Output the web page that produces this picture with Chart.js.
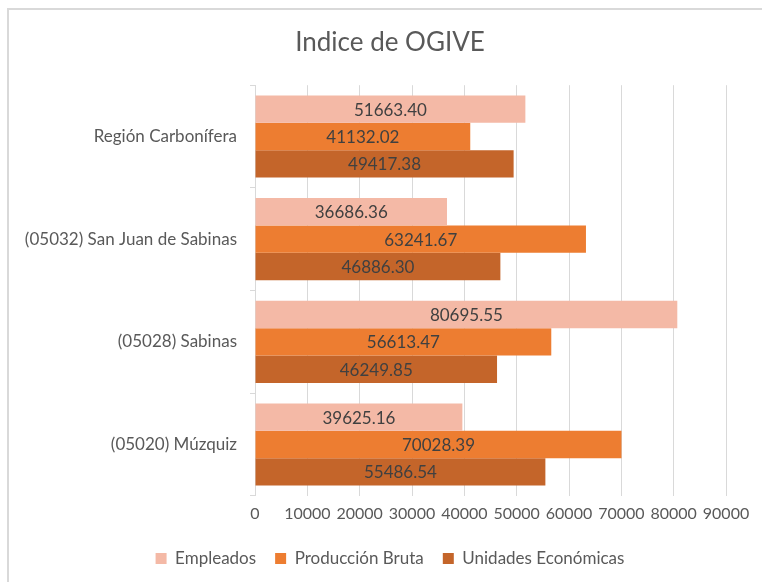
<!DOCTYPE html>
<html>
<head>
<meta charset="utf-8">
<script src="https://cdn.jsdelivr.net/npm/chart.js@4"></script>
<style>
  html, body { margin: 0; padding: 0; background: #fff; }
  #wrap { position: relative; width: 762px; height: 582px; overflow: hidden; }
  #frame { position: absolute; left: 7px; top: 8px; right: -10px; bottom: -10px;
           border-left: 2px solid #d9d9d9; border-top: 2px solid #d9d9d9; }
  #chart { position: absolute; left: 0; top: 0; }
</style>
</head>
<body>
<div id="wrap">
  <div id="frame"></div>
  <canvas id="chart" width="762" height="582"></canvas>
</div>
<script>
// Kategorier (oppefra og ned)
const categories = [
    'Región Carbonífera',
    '(05032) San Juan de Sabinas',
    '(05028) Sabinas',
    '(05020) Múzquiz'
];

// Serier
const empleados = [51663.40, 36686.36, 80695.55, 39625.16];
const produccionBruta = [41132.02, 63241.67, 56613.47, 70028.39];
const unidadesEconomicas = [49417.38, 46886.30, 46249.85, 55486.54];

// Akse-ticks
const xTicks = [0, 10000, 20000, 30000, 40000, 50000, 60000, 70000, 80000, 90000];

const FONT = 'Lato, "Open Sans", sans-serif';

// Tegner værdien midt i hver søjle
const barLabels = {
    id: 'barLabels',
    afterDatasetsDraw(chart) {
        const ctx = chart.ctx;
        ctx.save();
        ctx.font = '17px ' + FONT;
        ctx.fillStyle = '#404040';
        ctx.textAlign = 'center';
        ctx.textBaseline = 'middle';
        chart.data.datasets.forEach((ds, i) => {
            chart.getDatasetMeta(i).data.forEach((bar, j) => {
                const cx = (bar.base + bar.x) / 2;
                ctx.fillText(ds.data[j].toFixed(2), cx, bar.y + 1);
            });
        });
        ctx.restore();
    }
};

new Chart(document.getElementById('chart'), {
    type: 'bar',
    data: {
        labels: categories,
        datasets: [
            { label: 'Empleados', data: empleados, backgroundColor: '#F4B9A6' },
            { label: 'Producción Bruta', data: produccionBruta, backgroundColor: '#ED7D31' },
            { label: 'Unidades Económicas', data: unidadesEconomicas, backgroundColor: '#C4652A' }
        ]
    },
    options: {
        indexAxis: 'y',
        responsive: false,
        animation: false,
        categoryPercentage: 0.8,
        barPercentage: 1.0,
        layout: { padding: { left: 54, right: 36, top: 0, bottom: 5 } },
        plugins: {
            title: {
                display: true,
                text: 'Indice de OGIVE',
                color: '#595959',
                font: { family: FONT, size: 26, weight: 'normal' },
                padding: { top: 27, bottom: 27 }
            },
            legend: {
                position: 'bottom',
                labels: {
                    color: '#595959',
                    font: { family: FONT, size: 17 },
                    boxWidth: 11,
                    boxHeight: 11,
                    padding: 19
                }
            },
            tooltip: { enabled: false }
        },
        scales: {
            x: {
                min: 0,
                max: 90000,
                afterBuildTicks(scale) {
                    scale.ticks = xTicks.map(v => ({ value: v }));
                },
                grid: { color: '#d9d9d9', lineWidth: 1, drawTicks: false },
                border: { display: false },
                ticks: {
                    color: '#595959',
                    font: { family: FONT, size: 16 },
                    padding: 8,
                    maxRotation: 0,
                    autoSkip: false,
                    callback: v => String(v)
                }
            },
            y: {
                afterFit(scale) {
                    scale.width = 201;
                    // lad lange kategorinavne gå ud over aksens boks
                    scale._computeLabelArea = () => null;
                },
                grid: {
                    offset: true,
                    drawOnChartArea: false,
                    color: '#d9d9d9',
                    tickLength: 5
                },
                border: { display: true, color: '#d9d9d9', width: 1 },
                ticks: {
                    color: '#595959',
                    font: { family: FONT, size: 17 },
                    padding: 13
                }
            }
        }
    },
    plugins: [barLabels]
});
</script>
</body>
</html>
